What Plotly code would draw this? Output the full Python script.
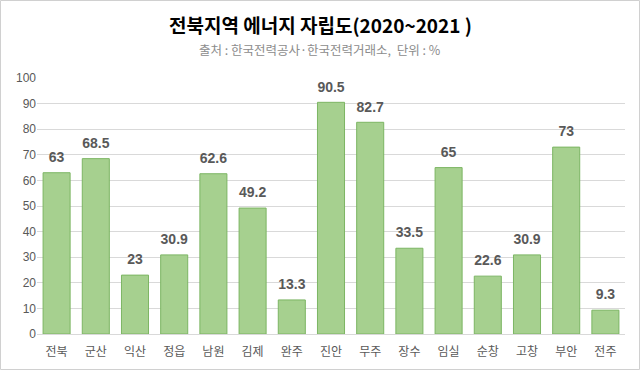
import plotly.graph_objects as go

categories = ["전북", "군산", "익산", "정읍", "남원", "김제", "완주", "진안", "무주", "장수", "임실", "순창", "고창", "부안", "전주"]
values = [63, 68.5, 23, 30.9, 62.6, 49.2, 13.3, 90.5, 82.7, 33.5, 65, 22.6, 30.9, 73, 9.3]
y_ticks = list(range(0, 101, 10))

W, H = 640, 370
ML, MR, MT, MB = 37, 15, 78, 36
pw, ph = W - ML - MR, H - MT - MB

fig = go.Figure()
fig.add_trace(go.Bar(
    x=categories, y=values,
    marker=dict(color="#a6d08f", line=dict(color="#7cb563", width=1)),
    hoverinfo="skip",
))
fig.add_trace(go.Scatter(
    x=categories, y=values, mode="markers+text",
    marker=dict(size=10, opacity=0),
    text=[str(v) for v in values], textposition="top center",
    textfont=dict(family="Liberation Sans, Arial", size=14, color="#595959", weight="bold"),
    cliponaxis=False, hoverinfo="skip",
))

fig.update_layout(
    width=W, height=H,
    margin=dict(l=ML, r=MR, t=MT, b=MB),
    paper_bgcolor="white", plot_bgcolor="white",
    bargap=0.31,
    showlegend=False,
    font=dict(family="Noto Sans CJK KR, Liberation Sans", color="#595959"),
    xaxis=dict(range=[-0.5, len(categories) - 0.5], showgrid=False, showline=True, linecolor="#d9d9d9",
               ticks="outside", ticklen=7, tickcolor="rgba(0,0,0,0)",
               tickfont=dict(size=12, color="#595959")),
    yaxis=dict(range=[0, 100], tickvals=y_ticks, showgrid=True, gridcolor="#d9d9d9",
               zeroline=False, ticks="", tickfont=dict(family="Liberation Sans, Arial", size=12, color="#595959")),
    annotations=[
        dict(text="<b>전북지역 에너지 자립도(2020~2021 )</b>",
             x=(320 - ML) / pw, y=(H - MB - 24) / ph, xref="paper", yref="paper", yanchor="middle",
             showarrow=False, font=dict(size=19, color="#000000", family="Noto Sans CJK KR")),
        dict(text="출처 : 한국전력공사·한국전력거래소,  단위 : %",
             x=(320 - ML) / pw, y=(H - MB - 49) / ph, xref="paper", yref="paper", yanchor="middle",
             showarrow=False, font=dict(size=12.5, color="#8c8c8c", family="Noto Sans CJK KR")),
    ],
)

fig.add_shape(type="rect", xref="paper", yref="paper",
              x0=-(ML - 0.5) / pw, x1=1 + (MR - 0.5) / pw,
              y0=-(MB - 0.5) / ph, y1=1 + (MT - 0.5) / ph,
              line=dict(color="#d0d0d0", width=1))

fig.write_html("out.html", config={"displayModeBar": False},
               post_script="document.body.style.margin='0';document.body.style.overflow='hidden';")
